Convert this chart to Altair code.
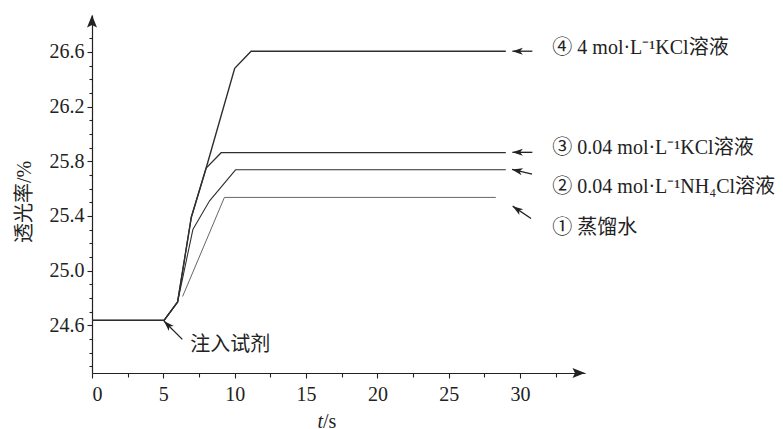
import altair as alt
import pandas as pd

# ---- data ----
t_c4 = [0, 5.05, 6.0, 6.96, 8.0, 10.0, 11.15, 29.0]
y_c4 = [24.635, 24.635, 24.77, 25.39, 25.75, 26.48, 26.605, 26.605]
t_c3 = [0, 5.05, 6.0, 6.96, 8.0, 9.05, 29.0]
y_c3 = [24.635, 24.635, 24.77, 25.39, 25.75, 25.862, 25.862]
t_c2 = [0, 5.05, 6.0, 7.07, 8.24, 10.06, 29.0]
y_c2 = [24.635, 24.635, 24.77, 25.30, 25.51, 25.737, 25.737]
t_c1 = [6.35, 9.28, 28.3]
y_c1 = [24.81, 25.535, 25.535]

curve_names = ["c1", "c2", "c3", "c4"]

# annotation arrows (tip -> tail)
arr_tip_t = [29.46, 29.46, 29.44, 29.48, 5.04]
arr_tip_y = [26.605, 25.865, 25.740, 25.471, 24.630]
arr_tail_t = [30.86, 30.86, 30.84, 30.77, 6.33]
arr_tail_y = [26.605, 25.865, 25.705, 25.381, 24.496]
arr_angle = [270, 270, 283, 304, 315]

# text labels
label_text = ["④ 4 mol·L⁻¹KCl溶液", "③ 0.04 mol·L⁻¹KCl溶液",
              "② 0.04 mol·L⁻¹NH₄Cl溶液", "① 蒸馏水", "注入试剂"]
label_t = [32.26, 32.26, 32.26, 32.26, 6.89]
label_y = [26.63, 25.895, 25.612, 25.31, 24.454]

y_title = "透光率/%"
x_title_var = "t"
x_title_unit = "/s"

x_major = [0, 5, 10, 15, 20, 25, 30]
x_minor = [2.5, 7.5, 12.5, 17.5, 22.5, 27.5, 32.5]
y_major = [24.6, 25.0, 25.4, 25.8, 26.2, 26.6]
y_minor = [24.3, 24.4, 24.5, 24.7, 24.8, 24.9, 25.1, 25.2, 25.3, 25.5, 25.6,
           25.7, 25.9, 26.0, 26.1, 26.3, 26.4, 26.5, 26.7]

x_dom = [0, 34.55]
y_dom = [24.25, 26.87]

# ---- tables ----
rows = []
for name, ts, ys_ in [("c1", t_c1, y_c1), ("c2", t_c2, y_c2),
                      ("c3", t_c3, y_c3), ("c4", t_c4, y_c4)]:
    for i, (a, b) in enumerate(zip(ts, ys_)):
        rows.append({"curve": name, "t": a, "v": b, "i": i})
df_lines = pd.DataFrame(rows)

df_arr = pd.DataFrame({"t": arr_tip_t, "v": arr_tip_y, "t2": arr_tail_t,
                       "v2": arr_tail_y, "ang": arr_angle})
df_lab = pd.DataFrame({"t": label_t, "v": label_y, "txt": label_text})
df_axarrow = pd.DataFrame({"t": [x_dom[0], x_dom[1]], "v": [y_dom[1], y_dom[0]],
                           "ang": [0, 90]})

FONT = "Liberation Serif, Noto Sans CJK SC"
INK = "#222222"

xs = alt.Scale(domain=x_dom, nice=False, zero=False)
ys = alt.Scale(domain=y_dom, nice=False, zero=False)

x_axis = alt.Axis(values=x_major, tickSize=5, labelPadding=6, domain=True,
                  title=None, grid=False, format="d", orient="bottom")
y_axis = alt.Axis(values=y_major, tickSize=5, labelPadding=3, domain=True,
                  grid=False, format=".1f", title=None, orient="left")

lines = alt.Chart(df_lines).mark_line(strokeJoin="miter").encode(
    x=alt.X("t:Q", scale=xs, axis=x_axis),
    y=alt.Y("v:Q", scale=ys, axis=y_axis),
    detail="curve:N",
    order="i:Q",
    color=alt.Color("curve:N", scale=alt.Scale(domain=curve_names,
                    range=["#555555", "#2e2e2e", "#2e2e2e", "#2e2e2e"]), legend=None),
    strokeWidth=alt.StrokeWidth("curve:N", scale=alt.Scale(domain=curve_names,
                    range=[0.9, 1.4, 1.4, 1.4]), legend=None),
)

x_axis_minor = alt.Axis(values=x_minor, tickSize=4, labels=False, domain=False,
                        title=None, grid=False, orient="bottom")
y_axis_minor = alt.Axis(values=y_minor, tickSize=3, labels=False, domain=False,
                        title=None, grid=False, orient="left")

ARROW = "M0,0L-0.5,1.5L0,1.1L0.5,1.5Z"
AXARROW = "M0,0L-0.5,1.25L0,1.0L0.5,1.25Z"

ax_arrows = alt.Chart(df_axarrow).mark_point(
    shape=AXARROW, filled=True, color=INK, opacity=1, size=400, strokeWidth=0
).encode(
    x=alt.X("t:Q", scale=xs, axis=x_axis_minor),
    y=alt.Y("v:Q", scale=ys, axis=y_axis_minor),
    angle=alt.Angle("ang:Q", scale=None),
)

shafts = alt.Chart(df_arr).mark_rule(color=INK, strokeWidth=1.3).encode(
    x=alt.X("t:Q", scale=xs, axis=None), y=alt.Y("v:Q", scale=ys, axis=None),
    x2="t2:Q", y2="v2:Q",
)
heads = alt.Chart(df_arr).mark_point(
    shape=ARROW, filled=True, color=INK, opacity=1, size=196, strokeWidth=0
).encode(
    x=alt.X("t:Q", scale=xs, axis=None), y=alt.Y("v:Q", scale=ys, axis=None),
    angle=alt.Angle("ang:Q", scale=None),
)

labels = alt.Chart(df_lab).mark_text(
    align="left", baseline="middle", font=FONT, fontSize=20, color=INK
).encode(
    x=alt.X("t:Q", scale=xs, axis=None), y=alt.Y("v:Q", scale=ys, axis=None),
    text="txt:N",
)

one = pd.DataFrame({"a": [0]})
yt = alt.Chart(one).mark_text(
    text=y_title, font=FONT, fontSize=20, angle=270,
    align="center", baseline="middle", color=INK
).encode(x=alt.value(-67), y=alt.value(187))
t_title = alt.Chart(one).mark_text(
    text=x_title_var, font="Liberation Serif", fontStyle="italic", fontSize=20,
    align="right", baseline="middle", color=INK
).encode(x=alt.value(231), y=alt.value(407))
s_title = alt.Chart(one).mark_text(
    text=x_title_unit, font="Liberation Serif", fontSize=20,
    align="left", baseline="middle", color=INK
).encode(x=alt.value(231), y=alt.value(407))

chart = alt.layer(lines, ax_arrows, shafts, heads, labels, yt, t_title, s_title).resolve_axis(
    x="independent", y="independent"
).properties(
    width=493, height=358,
    background="white",
    autosize=alt.AutoSizeParams(type="none"),
    padding={"left": 84, "top": 7, "right": 190, "bottom": 58},
).configure_view(stroke=None).configure_axis(
    labelFont="Liberation Serif", labelFontSize=20, labelColor=INK,
    tickColor=INK, domainColor=INK, domainWidth=1.2, tickWidth=1.1,
)

chart.save("out.html", embed_options={"renderer": "svg", "actions": False})
